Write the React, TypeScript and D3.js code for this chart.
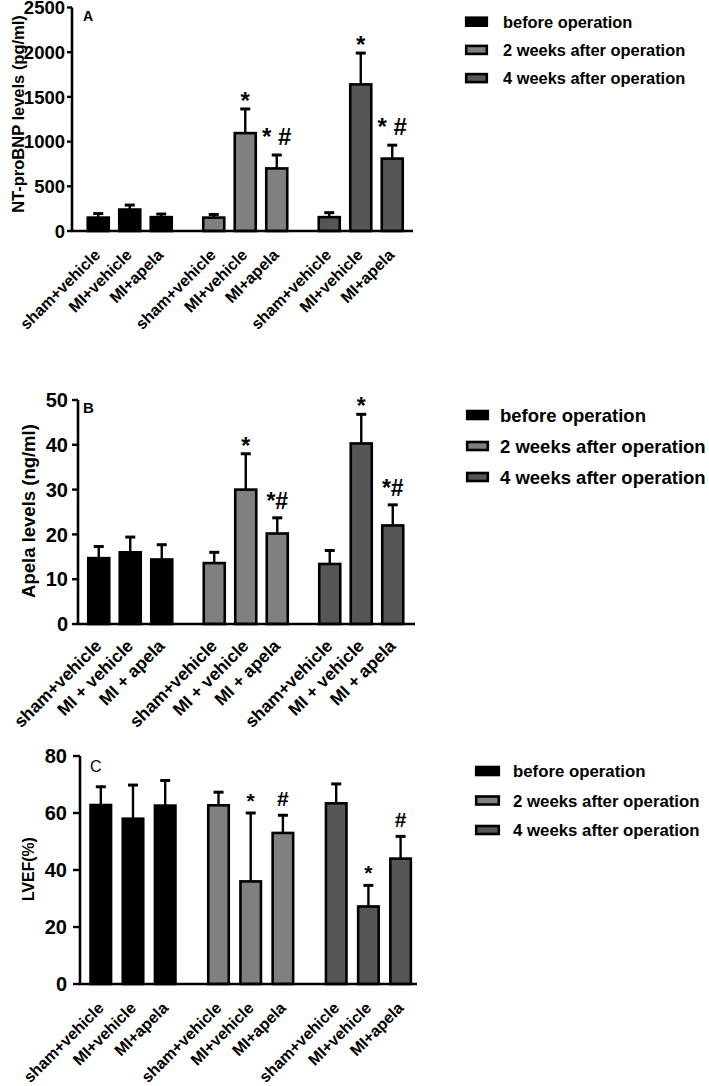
import React from "react";
import * as d3 from "d3";

// ---------- data ----------
const legendLabels = ["before operation", "2 weeks after operation", "4 weeks after operation"];
const groupFills = ["#000000", "#808080", "#565656"];
const treatmentLabelsAC = ["sham+vehicle", "MI+vehicle", "MI+apela"];
const treatmentLabelsB = ["sham+vehicle", "MI + vehicle", "MI + apela"];

const ntMean = [150, 240, 155, 150, 1095, 700, 155, 1640, 810];
const ntErr = [45, 50, 35, 35, 270, 150, 50, 350, 150];
const ntMarks = ["", "", "", "", "*", "* #", "", "*", "* #"];
const ntTicks = [0, 500, 1000, 1500, 2000, 2500];

const apelaMean = [14.7, 16, 14.4, 13.6, 30, 20.2, 13.4, 40.3, 22];
const apelaErr = [2.6, 3.4, 3.3, 2.4, 8, 3.5, 3, 6.5, 4.6];
const apelaMarks = ["", "", "", "", "*", "*#", "", "*", "*#"];
const apelaTicks = [0, 10, 20, 30, 40, 50];

const lvefMean = [62.8, 58, 62.6, 62.7, 36, 53, 63.4, 27.2, 44];
const lvefErr = [6.4, 11.8, 8.8, 4.6, 24, 6.2, 6.8, 7.4, 7.8];
const lvefMarks = ["", "", "", "", "*", "#", "", "*", "#"];
const lvefTicks = [0, 20, 40, 60, 80];

// ---------- layout ----------
const FONT = "'Liberation Sans', Arial, Helvetica, sans-serif";

interface Layout {
  axisX: number; y0: number; yTop: number; xEnd: number;
  groupStart: number; groupStep: number; innerPad: number; barW: number;
  tickFont: number; tickLen: number; tickGap: number;
  titleFont: number; titleX: number; titleY: number;
  labelFont: number; labelDx: number; labelDy: number;
  letterX: number; letterY: number; letterFont: number; letterWeight: string;
  markFont: number; starGap: number; markGap: number;
  legX: number; legY: number; legDy: number; legFont: number; swW: number; swH: number; legTextX: number;
}

interface PanelProps {
  letter: string; title: string; mean: number[]; err: number[]; marks: string[];
  ticks: number[]; labels: string[]; L: Layout;
}

const Panel: React.FC<PanelProps> = ({ letter, title, mean, err, marks, ticks, labels, L }) => {
  const yMax = ticks[ticks.length - 1];
  const y = d3.scaleLinear().domain([0, yMax]).range([L.y0, L.yTop]);
  const gx = d3.scaleBand<number>().domain([0, 1, 2]).range([L.groupStart, L.groupStart + 3 * L.groupStep]);
  const ix = d3.scalePoint<number>().domain([0, 1, 2]).range([0, L.groupStep]).padding(L.innerPad);
  const bars = mean.map((m, i) => {
    const g = Math.floor(i / 3);
    const k = i % 3;
    const cx = (gx(g) as number) + (ix(k) as number);
    return { m, e: err[i], mark: marks[i], g, k, cx, label: labels[k] };
  });
  return (
    <g fontFamily={FONT}>
      {bars.map((b, i) => {
        const top = y(b.m);
        const cap = y(b.m + b.e);
        const isStar = b.mark === "*";
        return (
          <g key={i}>
            <line x1={b.cx} x2={b.cx} y1={top} y2={cap} stroke="#000" strokeWidth={2.4} />
            <line x1={b.cx - 5} x2={b.cx + 5} y1={cap} y2={cap} stroke="#000" strokeWidth={3} />
            <rect x={b.cx - L.barW / 2} y={top} width={L.barW} height={L.y0 - top}
              fill={groupFills[b.g]} stroke="#000" strokeWidth={2.6} />
            {b.mark && (
              <text x={b.cx} y={cap - (isStar ? L.starGap : L.markGap)} textAnchor="middle"
                fontSize={L.markFont} fontWeight="bold" fill="#000">{b.mark}</text>
            )}
            <text transform={`translate(${b.cx + L.labelDx},${L.y0 + L.labelDy}) rotate(-45)`}
              textAnchor="end" fontSize={L.labelFont} fontWeight="bold" fill="#000">{b.label}</text>
          </g>
        );
      })}
      <line x1={L.axisX} x2={L.axisX} y1={y(yMax)} y2={L.y0} stroke="#000" strokeWidth={2.6} />
      <line x1={L.axisX - 1.3} x2={L.xEnd} y1={L.y0} y2={L.y0} stroke="#000" strokeWidth={2.6} />
      {ticks.map((t) => (
        <g key={t}>
          <line x1={L.axisX - L.tickLen} x2={L.axisX} y1={y(t)} y2={y(t)} stroke="#000" strokeWidth={2.4} />
          <text x={L.axisX - L.tickLen - L.tickGap} y={y(t)} dy="0.36em" textAnchor="end"
            fontSize={L.tickFont} fontWeight="bold" fill="#000">{t}</text>
        </g>
      ))}
      <text transform={`translate(${L.titleX},${L.titleY}) rotate(-90)`} textAnchor="middle" dy="0.36em"
        fontSize={L.titleFont} fontWeight="bold" fill="#000">{title}</text>
      <text x={L.letterX} y={L.letterY} fontSize={L.letterFont} fontWeight={L.letterWeight} fill="#000">{letter}</text>
      {legendLabels.map((lab, i) => {
        const cy = L.legY + i * L.legDy;
        return (
          <g key={lab}>
            <rect x={L.legX + 1.2} y={cy - L.swH / 2} width={L.swW - 2.4} height={L.swH}
              fill={groupFills[i]} stroke="#000" strokeWidth={2.6} />
            <text x={L.legTextX} y={cy} dy="0.36em" fontSize={L.legFont} fontWeight="bold" fill="#000">{lab}</text>
          </g>
        );
      })}
    </g>
  );
};

const layoutA: Layout = {
  axisX: 72, y0: 231, yTop: 7.5, xEnd: 413,
  groupStart: 72, groupStep: 115.5, innerPad: 0.8333, barW: 21,
  tickFont: 18.5, tickLen: 5, tickGap: 2,
  titleFont: 16.5, titleX: 18, titleY: 114,
  labelFont: 16, labelDx: 3, labelDy: 25,
  letterX: 83, letterY: 21, letterFont: 14, letterWeight: "bold",
  markFont: 24, starGap: 0, markGap: 10,
  legX: 465, legY: 21.7, legDy: 28.2, legFont: 16.4, swW: 23, swH: 8, legTextX: 503,
};

const layoutB: Layout = {
  axisX: 78, y0: 624, yTop: 400, xEnd: 415,
  groupStart: 72.5, groupStep: 115.5, innerPad: 0.8333, barW: 21,
  tickFont: 20, tickLen: 6, tickGap: 4,
  titleFont: 18.5, titleX: 28, titleY: 511,
  labelFont: 17.5, labelDx: 4, labelDy: 23,
  letterX: 83, letterY: 413, letterFont: 15, letterWeight: "bold",
  markFont: 23, starGap: 0, markGap: 9,
  legX: 466, legY: 415, legDy: 31, legFont: 18.5, swW: 23, swH: 8, legTextX: 500,
};

const layoutC: Layout = {
  axisX: 80, y0: 984, yTop: 756, xEnd: 417,
  groupStart: 74.15, groupStep: 117.7, innerPad: 0.828, barW: 20.5,
  tickFont: 20, tickLen: 7, tickGap: 6,
  titleFont: 15.8, titleX: 28, titleY: 869,
  labelFont: 16, labelDx: 4, labelDy: 25,
  letterX: 90, letterY: 772, letterFont: 16, letterWeight: "normal",
  markFont: 21, starGap: 5, markGap: 9,
  legX: 475, legY: 771, legDy: 29.5, legFont: 16.8, swW: 25, swH: 8, legTextX: 513,
};

export default function App() {
  return (
    <svg width={709} height={1086} viewBox="0 0 709 1086"
      style={{ position: "absolute", left: 0, top: 0, background: "#fff", display: "block" }}>
      <rect width={709} height={1086} fill="#fff" />
      <Panel letter="A" title="NT-proBNP levels (pg/ml)" mean={ntMean} err={ntErr} marks={ntMarks}
        ticks={ntTicks} labels={treatmentLabelsAC} L={layoutA} />
      <Panel letter="B" title="Apela levels (ng/ml)" mean={apelaMean} err={apelaErr} marks={apelaMarks}
        ticks={apelaTicks} labels={treatmentLabelsB} L={layoutB} />
      <Panel letter="C" title="LVEF(%)" mean={lvefMean} err={lvefErr} marks={lvefMarks}
        ticks={lvefTicks} labels={treatmentLabelsAC} L={layoutC} />
    </svg>
  );
}
